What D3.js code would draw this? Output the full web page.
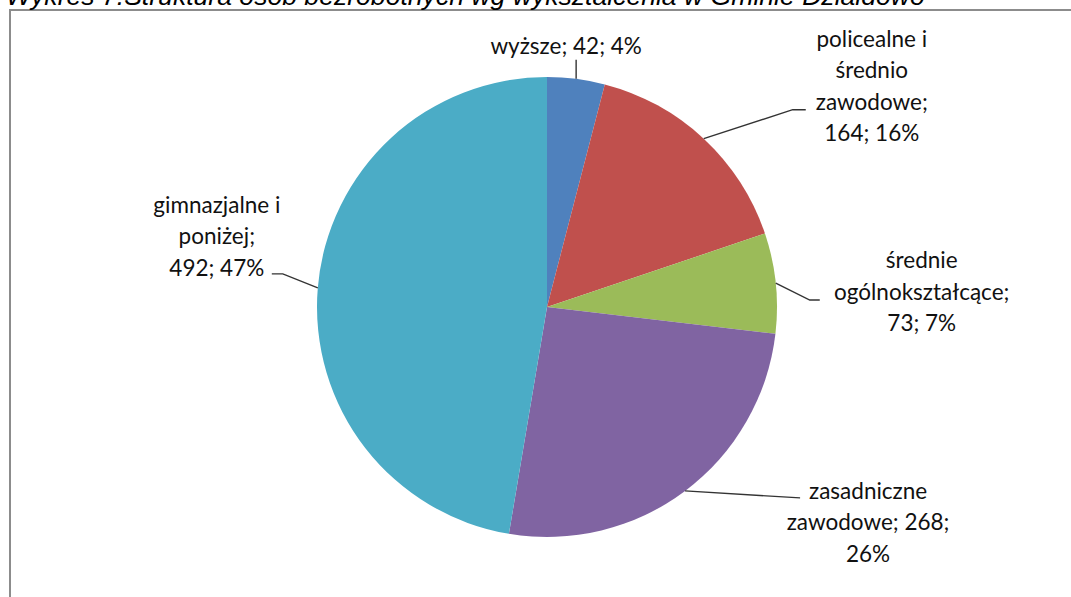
<!DOCTYPE html>
<html>
<head>
<meta charset="utf-8">
<script src="https://cdn.jsdelivr.net/npm/d3@7"></script>
<style>
  html, body { margin: 0; padding: 0; background: #fff; }
  svg { display: block; }
</style>
</head>
<body>
<svg id="chart" width="1071" height="597"></svg>
<script>
// ---- data ----
const titleText = "Wykres 7.Struktura osób bezrobotnych wg wykształcenia w Gminie Działdowo";
const categories = ["wyższe", "policealne i średnio zawodowe", "średnie ogólnokształcące", "zasadnicze zawodowe", "gimnazjalne i poniżej"];
const values = [42, 164, 73, 268, 492];
const percents = ["4%", "16%", "7%", "26%", "47%"];
const labelLines = [
  ["wyższe; 42; 4%"],
  ["policealne i", "średnio", "zawodowe;", "164; 16%"],
  ["średnie", "ogólnokształcące;", "73; 7%"],
  ["zasadniczne", "zawodowe; 268;", "26%"],
  ["gimnazjalne i", "poniżej;", "492; 47%"]
];
const colors = ["#4F81BD", "#C0504D", "#9BBB59", "#8064A2", "#4BACC6"];

// ---- layout (offsets relative to slice edge point) ----
const labelLayout = [
  { leader: [[0, -19]], text: [-10, -25] },
  { leader: [[89, -29], [102, -29]], text: [168, -92] },
  { leader: [[34, 17], [44, 17]], text: [146, -15] },
  { leader: [[115, 7]], text: [183, 8] },
  { leader: [[-35, -14], [-46, -14]], text: [-101, -75] }
];

const svg = d3.select("#chart");
const cx = 547, cy = 307, R = 230;
const lineH = 31.5;

// border
svg.append("rect")
  .attr("x", 10).attr("y", 10)
  .attr("width", 1200).attr("height", 800)
  .attr("fill", "none")
  .attr("stroke", "#8c8c8c")
  .attr("stroke-width", 2);

// title (cut off at top)
const title = svg.append("text")
  .attr("x", 6).attr("y", 5)
  .attr("font-family", "Liberation Sans, Arial, sans-serif")
  .attr("font-style", "italic")
  .attr("font-size", 24)
  .attr("fill", "#000")
  .text(titleText);
const tw = title.node().getComputedTextLength();
title.attr("font-size", 24 * 919 / tw);

const g = svg.append("g").attr("transform", `translate(${cx},${cy})`);

const pie = d3.pie().sort(null).value(d => d).startAngle(0).endAngle(2 * Math.PI);
const arcs = pie(values);
const arc = d3.arc().innerRadius(0).outerRadius(R);

g.selectAll("path.slice")
  .data(arcs)
  .join("path")
  .attr("class", "slice")
  .attr("d", arc)
  .attr("fill", (d, i) => colors[i]);

// labels & leaders
arcs.forEach((d, i) => {
  const mid = (d.startAngle + d.endAngle) / 2;
  const ex = R * Math.sin(mid), ey = -R * Math.cos(mid);
  const L = labelLayout[i];
  const pts = [[ex, ey]].concat(L.leader.map(p => [ex + p[0], ey + p[1]]));
  g.append("path")
    .attr("d", d3.line()(pts))
    .attr("fill", "none")
    .attr("stroke", "#333")
    .attr("stroke-width", 1.4);
  const t = g.append("text")
    .attr("text-anchor", "middle")
    .attr("font-family", "Lato, 'Open Sans', sans-serif")
    .attr("font-size", 22.5)
    .attr("fill", "#111");
  labelLines[i].forEach((ln, j) => {
    t.append("tspan")
      .attr("x", ex + L.text[0])
      .attr("y", ey + L.text[1] + j * lineH)
      .text(ln);
  });
});
</script>
</body>
</html>
